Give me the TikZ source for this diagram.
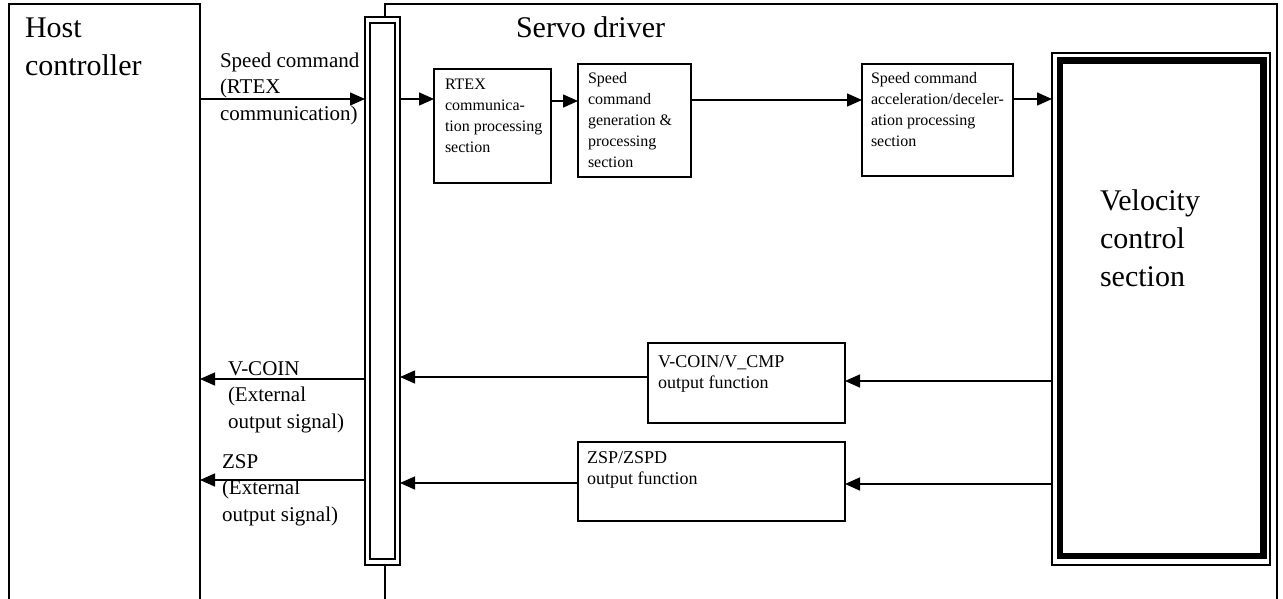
\documentclass[tikz,border=0pt]{standalone}
\usepackage{fontspec}
\setmainfont{Liberation Serif}
\usetikzlibrary{arrows.meta}
\newcommand\fbig{\fontsize{30}{38}\selectfont}
\newcommand\flab{\fontsize{21}{26.5}\selectfont}
\newcommand\fsml{\fontsize{16}{21}\selectfont}
\newcommand\fmdm{\fontsize{18}{21}\selectfont}
\begin{document}
\begin{tikzpicture}[x=1pt,y=-1pt,
  blk/.style={draw, line width=1.5pt, rectangle, inner sep=0pt, outer sep=0pt, anchor=north west},
  txt/.style={inner sep=0pt, outer sep=0pt, anchor=north west, align=left},
  arr/.style={line width=1.5pt, -{Triangle[length=15pt,width=13pt]}}]
\useasboundingbox (0,0) rectangle (1283,598);
\clip (0,0) rectangle (1283,598);
% outer frames
\node[blk, minimum width=191pt, minimum height=640pt] (host) at (9,4) {};
\node[blk, minimum width=892pt, minimum height=640pt] (servo) at (385,4) {};
% connector bar
\node[blk, fill=white, minimum width=35pt, minimum height=548pt] (bar) at (365,17) {};
\node[blk, minimum width=25pt, minimum height=536pt] (barin) at (370,23) {};
% velocity control section
\node[draw, line width=1.2pt, rectangle, inner sep=0pt, outer sep=0pt, anchor=north west,
      minimum width=218pt, minimum height=512pt] (vel) at (1052,53) {};
\node[draw, line width=6.5pt, rectangle, inner sep=0pt, outer sep=0pt, anchor=north west,
      minimum width=203.5pt, minimum height=495.5pt] (velin) at (1060,60.5) {};
% function blocks
\node[blk, minimum width=117pt, minimum height=114pt] (rtex) at (434,69) {};
\node[blk, minimum width=113pt, minimum height=113pt] (gen) at (578,64) {};
\node[blk, minimum width=151pt, minimum height=112pt] (accel) at (862,64) {};
\node[blk, minimum width=197pt, minimum height=80pt] (vcoin) at (648,343) {};
\node[blk, minimum width=267pt, minimum height=79pt] (zsp) at (578,442) {};
% texts
\node[txt, font=\fbig] (hostt) at (25,13) {\rule{0pt}{24pt}Host\\controller};
\node[txt, font=\fbig] (servot) at (516,13) {\rule{0pt}{24pt}Servo driver};
\node[txt, font=\fbig] (velt) at (1100,186) {\rule{0pt}{24pt}Velocity\\control\\section};
\node[txt, font=\flab] (lab1) at (220,50) {\rule{0pt}{17pt}Speed command\\(RTEX\\communication)};
\node[txt, font=\flab] (lab2) at (228,358) {\rule{0pt}{17pt}V-COIN\\(External\\output signal)};
\node[txt, font=\flab] (lab3) at (222,451) {\rule{0pt}{17pt}ZSP\\(External\\output signal)};
\node[txt, font=\fsml] (rtext) at (445,76) {\rule{0pt}{13pt}RTEX\\communica-\\tion processing\\section};
\node[txt, font=\fsml] (gent) at (588,70) {\rule{0pt}{13pt}Speed\\command\\generation \&\\processing\\section};
\node[txt, font=\fsml] (accelt) at (871,70) {\rule{0pt}{13pt}Speed command\\acceleration/deceler-\\ation processing\\section};
\node[txt, font=\fmdm] (vcoint) at (658,352) {\rule{0pt}{15pt}V-COIN/V\_CMP\\output function};
\node[txt, font=\fmdm] (zspt) at (587,448) {\rule{0pt}{15pt}ZSP/ZSPD\\output function};
% connectors
\draw[arr] (host.east |- 0,99) -- (bar.west |- 0,99);
\draw[arr] (bar.east |- 0,99) -- (rtex.west |- 0,99);
\draw[arr] (rtex.east |- 0,101) -- (gen.west |- 0,101);
\draw[arr] (gen.east |- 0,100) -- (accel.west |- 0,100);
\draw[arr] (accel.east |- 0,99) -- (vel.west |- 0,99);
\draw[arr] (vel.west |- 0,381) -- (vcoin.east |- 0,381);
\draw[arr] (vcoin.west |- 0,377) -- (bar.east |- 0,377);
\draw[arr] (bar.west |- 0,379) -- (host.east |- 0,379);
\draw[arr] (vel.west |- 0,484) -- (zsp.east |- 0,484);
\draw[arr] (zsp.west |- 0,483) -- (bar.east |- 0,483);
\draw[arr] (bar.west |- 0,480) -- (host.east |- 0,480);
\end{tikzpicture}
\end{document}
